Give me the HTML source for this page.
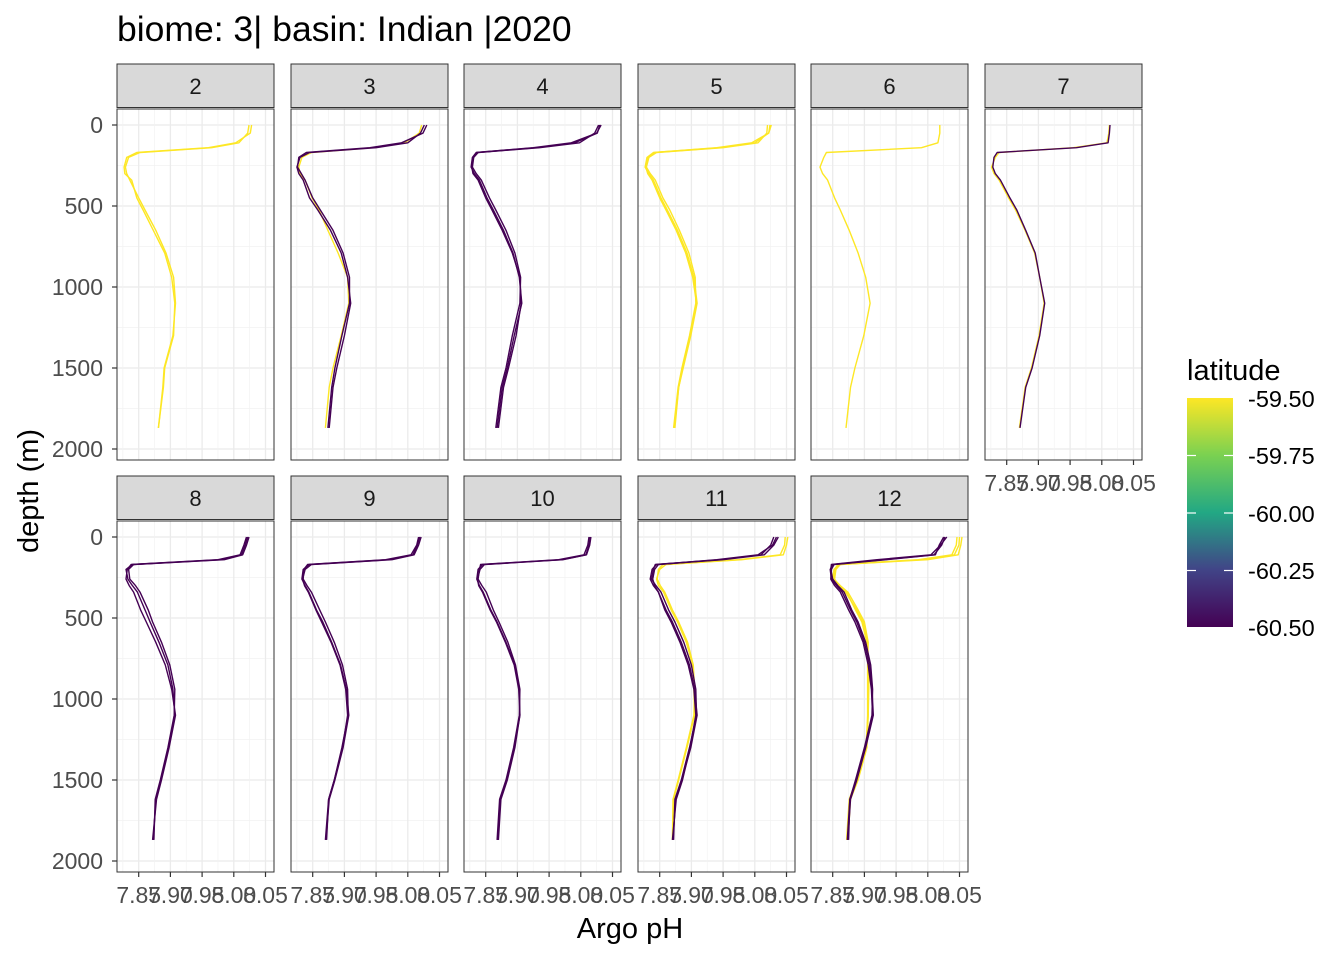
<!DOCTYPE html>
<html><head><meta charset="utf-8"><style>
html,body{margin:0;padding:0;background:#fff;}
svg{display:block;font-family:"Liberation Sans",sans-serif;}
</style></head><body>
<svg id="chart" width="1344" height="960" viewBox="0 0 1344 960">
<defs>
<linearGradient id="vir" x1="0" y1="0" x2="0" y2="1">
<stop offset="0" stop-color="#FDE725"/><stop offset="0.25" stop-color="#7AD151"/><stop offset="0.5" stop-color="#22A884"/><stop offset="0.75" stop-color="#414487"/><stop offset="1" stop-color="#440154"/>
</linearGradient>
</defs>
<text x="117" y="41" font-size="35.5" fill="#000">biome: 3| basin: Indian |2020</text>
<text transform="translate(38,491) rotate(-90)" text-anchor="middle" font-size="29" fill="#000">depth (m)</text>
<text x="630" y="938" text-anchor="middle" font-size="29" fill="#000">Argo pH</text>
<g>
<text x="1187" y="380" font-size="29" fill="#000">latitude</text>
<rect x="1187" y="398" width="46" height="229" fill="url(#vir)"/>
<g stroke="#fff" stroke-width="1.2">
<line x1="1187" x2="1196" y1="455.5" y2="455.5"/><line x1="1224" x2="1233" y1="455.5" y2="455.5"/>
<line x1="1187" x2="1196" y1="513" y2="513"/><line x1="1224" x2="1233" y1="513" y2="513"/>
<line x1="1187" x2="1196" y1="570.5" y2="570.5"/><line x1="1224" x2="1233" y1="570.5" y2="570.5"/>
</g>
<g font-size="23.5" fill="#000">
<text x="1248" y="407">-59.50</text>
<text x="1248" y="464">-59.75</text>
<text x="1248" y="522">-60.00</text>
<text x="1248" y="579">-60.25</text>
<text x="1248" y="636">-60.50</text>
</g>
</g>
<g id="panels"></g>
</svg>
<script>
const months = [2,3,4,5,6,7,8,9,10,11,12];
const depthTicks = [0,500,1000,1500,2000];
const phTicks = [7.85,7.90,7.95,8.00,8.05];
const phTickLabels = ["7.85","7.90","7.95","8.00","8.05"];
const depths = [0,50,110,140,170,200,260,300,340,450,525,650,790,940,1100,1300,1500,1620,1870];
const seriesMonth = [2,2,3,3,3,4,4,4,5,5,5,6,7,7,8,8,8,9,9,9,10,10,10,11,11,11,11,11,12,12,12,12,12,12];
const seriesColor = ["y","y","y","p","p","p","p","p","y","y","y","y","y","p","p","p","p","p","p","p","p","p","p","y","y","p","p","p","y","y","y","p","p","p"];
const seriesPH = [
[8.028,8.026,8.003,7.960,7.847,7.831,7.827,7.828,7.839,7.847,7.857,7.873,7.891,7.902,7.907,7.905,7.891,7.889,7.881],
[8.024,8.022,8.008,7.965,7.852,7.834,7.829,7.831,7.836,7.850,7.860,7.877,7.893,7.905,7.908,7.904,7.890,7.888,7.881],
[8.022,8.018,7.995,7.945,7.848,7.833,7.828,7.830,7.838,7.849,7.860,7.874,7.890,7.905,7.907,7.895,7.882,7.876,7.870],
[8.026,8.020,8.000,7.950,7.845,7.830,7.825,7.828,7.835,7.845,7.858,7.878,7.895,7.905,7.910,7.900,7.888,7.882,7.876],
[8.030,8.024,7.990,7.940,7.840,7.828,7.826,7.832,7.838,7.850,7.862,7.882,7.898,7.908,7.908,7.896,7.885,7.880,7.874],
[8.030,8.026,7.990,7.930,7.835,7.829,7.827,7.832,7.840,7.852,7.862,7.878,7.893,7.903,7.907,7.895,7.884,7.876,7.868],
[8.028,8.022,7.998,7.935,7.838,7.831,7.829,7.835,7.843,7.856,7.866,7.882,7.896,7.905,7.904,7.892,7.882,7.874,7.866],
[8.032,8.025,7.985,7.925,7.836,7.830,7.828,7.830,7.838,7.850,7.860,7.876,7.892,7.904,7.906,7.898,7.886,7.878,7.870],
[8.024,8.022,8.000,7.945,7.840,7.830,7.827,7.833,7.840,7.852,7.862,7.878,7.893,7.904,7.909,7.899,7.887,7.880,7.873],
[8.020,8.019,8.005,7.950,7.845,7.833,7.829,7.835,7.843,7.855,7.866,7.881,7.896,7.906,7.907,7.897,7.885,7.879,7.872],
[8.026,8.022,7.995,7.940,7.842,7.832,7.828,7.831,7.838,7.850,7.860,7.876,7.891,7.902,7.908,7.898,7.886,7.880,7.874],
[8.019,8.019,8.016,7.990,7.840,7.836,7.830,7.834,7.842,7.853,7.862,7.876,7.890,7.902,7.909,7.899,7.885,7.878,7.871],
[8.012,8.011,8.008,7.955,7.838,7.832,7.826,7.830,7.838,7.853,7.864,7.879,7.894,7.902,7.909,7.901,7.889,7.879,7.870],
[8.013,8.012,8.010,7.960,7.835,7.830,7.828,7.832,7.840,7.855,7.866,7.880,7.895,7.902,7.910,7.902,7.890,7.880,7.871],
[8.022,8.018,8.012,7.980,7.840,7.830,7.833,7.840,7.848,7.860,7.868,7.882,7.896,7.904,7.907,7.897,7.885,7.877,7.873],
[8.020,8.016,8.010,7.975,7.838,7.832,7.830,7.835,7.842,7.853,7.862,7.877,7.892,7.902,7.908,7.898,7.886,7.878,7.872],
[8.024,8.020,8.014,7.985,7.842,7.834,7.836,7.845,7.852,7.865,7.872,7.886,7.899,7.907,7.906,7.896,7.884,7.876,7.874],
[8.019,8.015,8.008,7.970,7.845,7.835,7.833,7.838,7.844,7.856,7.866,7.880,7.894,7.903,7.907,7.898,7.885,7.876,7.871],
[8.017,8.014,8.005,7.965,7.842,7.836,7.835,7.841,7.848,7.861,7.870,7.884,7.897,7.905,7.906,7.896,7.884,7.875,7.872],
[8.021,8.017,8.010,7.975,7.848,7.838,7.834,7.837,7.843,7.855,7.864,7.879,7.893,7.902,7.905,7.897,7.884,7.875,7.870],
[8.015,8.013,8.008,7.970,7.845,7.838,7.836,7.840,7.846,7.858,7.868,7.882,7.896,7.903,7.904,7.895,7.883,7.873,7.869],
[8.013,8.011,8.005,7.965,7.842,7.840,7.838,7.844,7.851,7.862,7.871,7.885,7.897,7.904,7.903,7.894,7.882,7.872,7.868],
[8.016,8.014,8.009,7.972,7.848,7.841,7.837,7.839,7.845,7.857,7.867,7.881,7.895,7.902,7.904,7.896,7.884,7.874,7.870],
[8.052,8.050,8.045,7.980,7.860,7.850,7.845,7.848,7.856,7.868,7.878,7.892,7.902,7.904,7.905,7.893,7.880,7.872,7.871],
[8.048,8.047,8.040,7.975,7.855,7.848,7.846,7.851,7.858,7.870,7.880,7.894,7.903,7.905,7.904,7.892,7.879,7.871,7.870],
[8.037,8.030,8.015,7.950,7.845,7.838,7.835,7.840,7.848,7.860,7.870,7.884,7.897,7.905,7.909,7.899,7.885,7.875,7.871],
[8.030,8.025,8.010,7.945,7.843,7.840,7.837,7.844,7.852,7.864,7.874,7.888,7.900,7.907,7.908,7.897,7.884,7.874,7.872],
[8.034,8.028,8.005,7.940,7.848,7.842,7.839,7.842,7.848,7.858,7.868,7.882,7.895,7.904,7.907,7.898,7.886,7.876,7.870],
[8.054,8.052,8.048,8.000,7.860,7.852,7.850,7.858,7.870,7.888,7.898,7.905,7.906,7.906,7.906,7.904,7.890,7.878,7.874],
[8.050,8.049,8.042,7.990,7.858,7.853,7.852,7.862,7.874,7.890,7.900,7.906,7.905,7.905,7.905,7.903,7.888,7.877,7.873],
[8.046,8.045,8.038,7.985,7.862,7.855,7.853,7.860,7.872,7.886,7.896,7.904,7.907,7.907,7.906,7.902,7.887,7.876,7.872],
[8.027,8.022,8.010,7.930,7.850,7.846,7.848,7.856,7.865,7.878,7.888,7.900,7.908,7.912,7.914,7.902,7.888,7.878,7.874],
[8.030,8.020,8.005,7.920,7.848,7.847,7.850,7.858,7.868,7.880,7.890,7.902,7.910,7.913,7.912,7.900,7.886,7.877,7.875],
[8.025,8.018,8.012,7.935,7.852,7.848,7.847,7.853,7.862,7.875,7.885,7.898,7.906,7.911,7.913,7.901,7.887,7.877,7.873]
];

const NS = "http://www.w3.org/2000/svg";
const colLeft = [117,291,464,638,811,985];
const rowStrip = [64,476];
const PW = 157, PH = 351, SH = 44;
const colors = {y:"#FDE725", p:"#440154"};
function xScale(v){ return 21.7 + (v-7.85)*634; }
function yScale(d){ return 16 + d*0.162; }
function mk(tag, attrs, parent){
  const e = document.createElementNS(NS, tag);
  for (const k in attrs) e.setAttribute(k, attrs[k]);
  parent.appendChild(e); return e;
}
const root = document.getElementById("panels");
months.forEach((m, i) => {
  const col = i % 6, row = Math.floor(i / 6);
  const x0 = colLeft[col], sy = rowStrip[row], y0 = sy + SH + 1;
  const g = mk("g", {transform:`translate(${x0},${y0})`}, root);
  
  
  const strip = mk("rect", {x:0, y:-SH-1, width:PW, height:SH-0.5, fill:"#D9D9D9", stroke:"#333", "stroke-width":1}, g);
  
  
  const st = mk("text", {x:PW/2, y:-SH/2+7, "text-anchor":"middle", "font-size":22, fill:"#1a1a1a"}, g);
  
  
  st.textContent = String(m);
  for (let k = 0; k < depthTicks.length; k++) {
    const y = yScale(depthTicks[k]);
    mk("line", {x1:0, x2:PW, y1:y, y2:y, stroke:"#EBEBEB", "stroke-width":1.3}, g);
    if (k < depthTicks.length - 1) { const ym = yScale(depthTicks[k]+250); mk("line", {x1:0, x2:PW, y1:ym, y2:ym, stroke:"#F2F2F2", "stroke-width":0.7}, g); }
  }
  for (let k = 0; k < phTicks.length; k++) {
    const x = xScale(phTicks[k]);
    mk("line", {x1:x, x2:x, y1:0, y2:PH, stroke:"#EBEBEB", "stroke-width":1.3}, g);
    mk("line", {x1:x-15.85, x2:x-15.85, y1:0, y2:PH, stroke:"#F2F2F2", "stroke-width":0.7}, g);
  }
  seriesMonth.forEach((sm, s) => {
    if (sm !== m) return;
    const pts = seriesPH[s].map((v, j) => xScale(v).toFixed(1) + "," + yScale(depths[j]).toFixed(1)).join(" ");
    const pl = mk("polyline", {points:pts, fill:"none", stroke:colors[seriesColor[s]], "stroke-width":1.4, "stroke-linejoin":"round"}, g);
    
    
  });
  mk("rect", {x:0, y:0, width:PW, height:PH, fill:"none", stroke:"#333", "stroke-width":1}, g);
  if (col === 0) {
    depthTicks.forEach(d => {
      const y = yScale(d);
      mk("line", {x1:-5, x2:0, y1:y, y2:y, stroke:"#333", "stroke-width":1.2}, g);
      const t = mk("text", {x:-14, y:y+8, "text-anchor":"end", "font-size":23, fill:"#4D4D4D"}, g);
      
      
      t.textContent = String(d);
    });
  }
  if (row === 1 || col === 5) {
    phTicks.forEach((v, k) => {
      const x = xScale(v);
      mk("line", {x1:x, x2:x, y1:PH, y2:PH+5, stroke:"#333", "stroke-width":1.2}, g);
      const t = mk("text", {x:x, y:PH+31, "text-anchor":"middle", "font-size":23, fill:"#4D4D4D"}, g);
      
      
      t.textContent = phTickLabels[k];
    });
  }
});
</script>
</body></html>
